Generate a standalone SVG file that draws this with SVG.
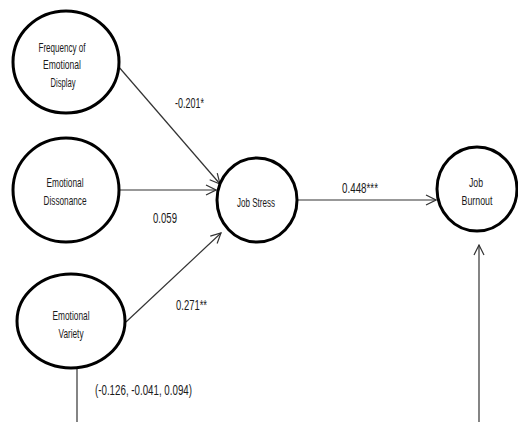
<svg xmlns="http://www.w3.org/2000/svg" width="518" height="422" viewBox="0 0 518 422">
<style>
.n{fill:#fff;stroke:#000;stroke-width:3}
.t{font-family:"Liberation Sans",Arial,sans-serif;font-size:13px;fill:#1a1a1a;text-anchor:middle}
.l{font-family:"Liberation Sans",Arial,sans-serif;font-size:14px;fill:#1a1a1a}
.c{fill:none;stroke:#333;stroke-width:1.2}
</style>
<defs>
<marker id="a" viewBox="0 0 12 12" refX="11" refY="6" markerWidth="12" markerHeight="12" markerUnits="userSpaceOnUse" orient="auto">
<path d="M1,1 L11,6 L1,11" fill="none" stroke="#333" stroke-width="1.2"/>
</marker>
</defs>
<rect width="518" height="422" fill="#fff"/>
<g id="connectors">
<line class="c" x1="118" y1="66" x2="220" y2="184" marker-end="url(#a)"/>
<line class="c" x1="120" y1="190" x2="216" y2="190" marker-end="url(#a)"/>
<line class="c" x1="126" y1="322" x2="221" y2="233" marker-end="url(#a)"/>
<line class="c" x1="297" y1="200" x2="436" y2="200" marker-end="url(#a)"/>
<line class="c" x1="479" y1="422" x2="479" y2="245" marker-end="url(#a)"/>
<line class="c" x1="77" y1="369" x2="77" y2="422"/>
<text class="l" x="175" y="108" textLength="29" lengthAdjust="spacingAndGlyphs">-0.201*</text>
<text class="l" x="153" y="223" textLength="24" lengthAdjust="spacingAndGlyphs">0.059</text>
<text class="l" x="176" y="310" textLength="31" lengthAdjust="spacingAndGlyphs">0.271**</text>
<text class="l" x="342" y="193" textLength="36" lengthAdjust="spacingAndGlyphs">0.448***</text>
<text class="l" x="95" y="395" textLength="97" lengthAdjust="spacingAndGlyphs">(-0.126, -0.041, 0.094)</text>
</g>
<g id="freq">
<ellipse class="n" cx="66" cy="62" rx="53" ry="51"/>
<text class="t" x="62" y="52" textLength="47" lengthAdjust="spacingAndGlyphs">Frequency of</text>
<text class="t" x="62" y="69" textLength="38" lengthAdjust="spacingAndGlyphs">Emotional</text>
<text class="t" x="63" y="87" textLength="25" lengthAdjust="spacingAndGlyphs">Display</text>
</g>
<g id="dissonance">
<ellipse class="n" cx="66" cy="190" rx="53" ry="52"/>
<text class="t" x="65" y="187" textLength="37" lengthAdjust="spacingAndGlyphs">Emotional</text>
<text class="t" x="65" y="205" textLength="43" lengthAdjust="spacingAndGlyphs">Dissonance</text>
</g>
<g id="variety">
<ellipse class="n" cx="71" cy="321" rx="54" ry="47"/>
<text class="t" x="71" y="320" textLength="37" lengthAdjust="spacingAndGlyphs">Emotional</text>
<text class="t" x="71" y="338" textLength="25" lengthAdjust="spacingAndGlyphs">Variety</text>
</g>
<g id="stress">
<ellipse class="n" cx="257" cy="200" rx="40" ry="42"/>
<text class="t" x="256" y="207" textLength="38" lengthAdjust="spacingAndGlyphs">Job Stress</text>
</g>
<g id="burnout">
<ellipse class="n" cx="477" cy="189" rx="40" ry="42"/>
<text class="t" x="476" y="187" textLength="14" lengthAdjust="spacingAndGlyphs">Job</text>
<text class="t" x="477" y="205" textLength="31" lengthAdjust="spacingAndGlyphs">Burnout</text>
</g>
</svg>
